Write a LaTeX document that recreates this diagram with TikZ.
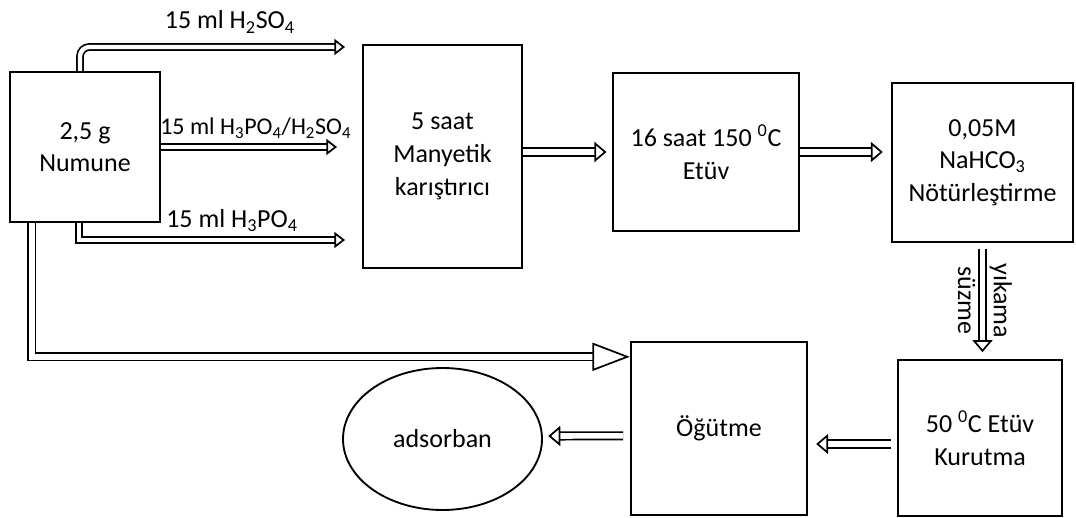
\documentclass[tikz,border=0pt]{standalone}
\usepackage{fontspec}
\setmainfont{Carlito}
\usetikzlibrary{arrows.meta,shapes.geometric}

\begin{document}
\begin{tikzpicture}[x=0.75pt,y=0.75pt,yscale=-1,xscale=1,
	kutu/.style={draw, line width=1.8pt, align=center, inner sep=0pt, font=\fontsize{19.5}{24.5}\selectfont},
	ok/.style={double, double distance=3.2pt, line width=1.3pt, -{Triangle[open, length=8pt, width=12pt]}},
	kalinok/.style={double, double distance=4.2pt, line width=1.3pt, -{Triangle[open, length=9pt, width=15pt]}},
	buyukok/.style={double, double distance=4.2pt, line width=1.3pt, -{Triangle[open, length=28pt, width=21pt]}},
	etiket/.style={inner sep=0.75pt, font=\fontsize{19.5}{23}\selectfont}]
	
	\useasboundingbox (0,0) rectangle (1076,518);
	
	% Kutular
	\node[kutu, minimum width=112.5pt, minimum height=112.5pt] (numune) at (85,147) {2,5 g\\Numune};
	\node[kutu, minimum width=119.25pt, minimum height=167.25pt] (manyetik) at (442.5,156.5) {5 saat\\Manyetik\\karıştırıcı};
	\node[kutu, minimum width=139.5pt, minimum height=118.5pt] (etuv) at (706,152) {16 saat 150 \textsuperscript{0}C\\Etüv};
	\node[kutu, minimum width=135.75pt, minimum height=119.25pt] (notr) at (982.5,162.5) {0,05M\\NaHCO\textsubscript{3}\\Nötürleştirme};
	\node[kutu, minimum width=123pt, minimum height=117pt] (kurutma) at (980,438) {50 \textsuperscript{0}C Etüv\\Kurutma};
	\node[kutu, minimum width=132pt, minimum height=129.75pt] (ogutme) at (719,428.5) {Öğütme};
	\node[kutu, ellipse, line width=1.4pt, minimum width=149.25pt, minimum height=106.5pt] (adsorban) at (442.5,439) {adsorban};
	
	% Serbest uclar
	\coordinate (ust) at (345,47);
	\coordinate (orta) at (337,147);
	\coordinate (alt) at (345,240);
	
	% Oklar
	\draw[ok, rounded corners=7pt] ([xshift=-3.75pt]numune.north) |- (ust)
		node[etiket, pos=0.75, above=9pt, xshift=13pt] {15 ml H\textsubscript{2}SO\textsubscript{4}};
	\draw[ok] (numune.east) -- (orta)
		node[etiket, midway, above=5pt, xshift=5pt, font=\fontsize{18}{22}\selectfont] {15 ml H\textsubscript{3}PO\textsubscript{4}/H\textsubscript{2}SO\textsubscript{4}};
	\draw[ok] ([xshift=-4.5pt]numune.south) |- (alt)
		node[etiket, pos=0.75, above=5pt, xshift=15pt] {15 ml H\textsubscript{3}PO\textsubscript{4}};
	\draw[buyukok] ([xshift=17.25pt]numune.south west) |- ([yshift=12pt]ogutme.north west);
	\draw[kalinok] (manyetik.east |- etuv.west) -- ([xshift=-4pt]etuv.west);
	\draw[kalinok] (etuv.east) -- ([xshift=-6pt]notr.west |- etuv.east);
	\draw[kalinok] ([yshift=4.5pt]notr.south) -- ([yshift=-5pt]notr.south |- kurutma.north)
		node[etiket, midway, rotate=-90, anchor=south, yshift=4pt] {yıkama}
		node[etiket, midway, rotate=-90, anchor=north, yshift=-4pt] {süzme};
	\draw[kalinok] ([xshift=-4pt,yshift=4.5pt]kurutma.west) -- ([xshift=6pt]ogutme.east |- 0,444);
	\draw[kalinok] ([xshift=-5pt,yshift=5.5pt]ogutme.west) -- ([xshift=4pt]adsorban.east |- 0,436);
	
\end{tikzpicture}
\end{document}
